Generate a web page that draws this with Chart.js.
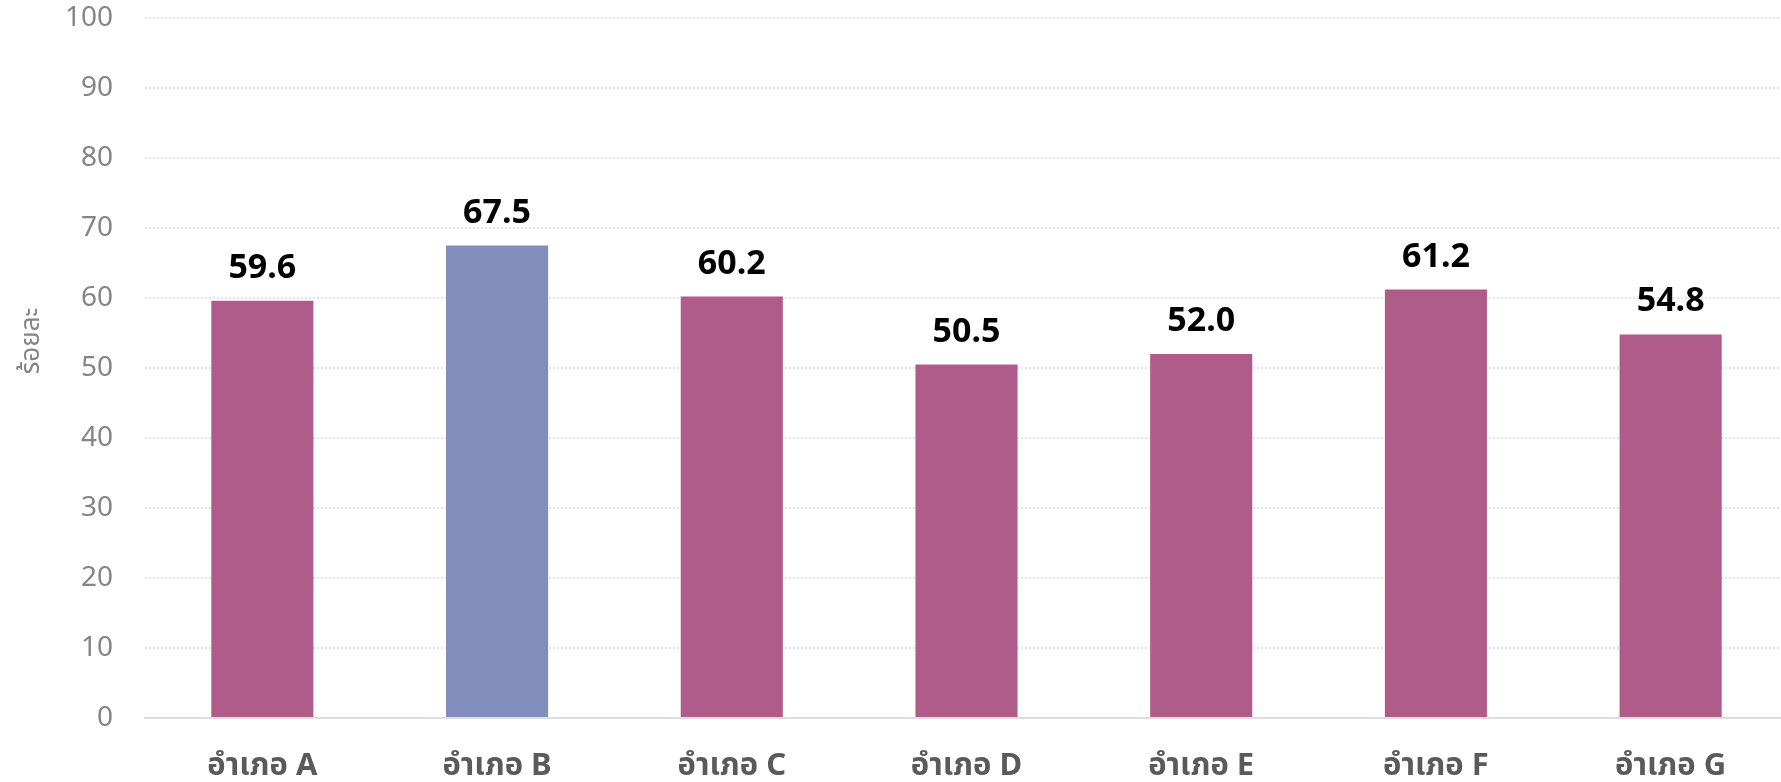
<!DOCTYPE html>
<html>
<head>
<meta charset="utf-8">
<script src="https://cdn.jsdelivr.net/npm/chart.js@4/dist/chart.umd.min.js"></script>
<style>
  html, body { margin: 0; padding: 0; background: #fff; overflow: hidden; }
  #wrap { position: relative; width: 1788px; height: 782px; }
</style>
</head>
<body>
<div id="wrap"><canvas id="c"></canvas></div>
<script>
const categories = ["อำเภอ A", "อำเภอ B", "อำเภอ C", "อำเภอ D", "อำเภอ E", "อำเภอ F", "อำเภอ G"];
const values = [59.6, 67.5, 60.2, 50.5, 52.0, 61.2, 54.8];
const highlightIndex = 1;
const yTicks = [0, 10, 20, 30, 40, 50, 60, 70, 80, 90, 100];
const yTitle = "ร้อยละ";

const FONT = '"Noto Sans", "Noto Sans Thai", "Open Sans", sans-serif';
const barColors = categories.map((c, i) => i === highlightIndex ? "#818dba" : "#b05c8b");

const valueLabels = {
  id: "valueLabels",
  afterDatasetsDraw(chart) {
    const ctx = chart.ctx;
    const meta = chart.getDatasetMeta(0);
    ctx.save();
    ctx.fillStyle = "#000";
    ctx.font = "bold 34px " + FONT;
    ctx.textAlign = "center";
    ctx.textBaseline = "alphabetic";
    meta.data.forEach((bar, i) => {
      ctx.fillText(values[i].toFixed(1), bar.x, bar.y - 23);
    });
    ctx.restore();
  }
};

const axisTitle = {
  id: "axisTitle",
  afterDraw(chart) {
    const ctx = chart.ctx;
    const area = chart.chartArea;
    ctx.save();
    ctx.translate(32, (area.top + area.bottom) / 2 - 27);
    ctx.rotate(-Math.PI / 2);
    ctx.fillStyle = "#858585";
    ctx.font = "26px " + FONT;
    ctx.textAlign = "center";
    ctx.textBaseline = "middle";
    ctx.fillText(yTitle, 0, 0);
    ctx.restore();
  }
};

new Chart(document.getElementById("c"), {
  type: "bar",
  data: {
    labels: categories,
    datasets: [{
      data: values,
      backgroundColor: barColors,
      borderWidth: 0,
      categoryPercentage: 1.0,
      barPercentage: 0.435
    }]
  },
  options: {
    responsive: true,
    maintainAspectRatio: false,
    animation: false,
    devicePixelRatio: 1,
    layout: { padding: { top: 0, right: 0, bottom: 0, left: 0 } },
    plugins: { legend: { display: false }, tooltip: { enabled: false } },
    scales: {
      x: {
        grid: { display: false, drawTicks: false },
        border: { display: true, color: "#dddddd", width: 2 },
        ticks: {
          color: "#5a5a5a",
          font: { family: FONT, size: 31, weight: "bold" },
          padding: 30,
          maxRotation: 0
        },
        afterFit(scale) { scale.height = 64; }
      },
      y: {
        min: 0,
        max: 100,
        afterBuildTicks(scale) { scale.ticks = yTicks.map(v => ({ value: v })); },
        grid: { color: "#dde3f5", lineWidth: 2, drawTicks: false },
        border: { display: false, dash: [2, 2] },
        ticks: {
          color: "#858585",
          font: { family: FONT, size: 28 },
          padding: 32
        },
        title: { display: false },
        afterFit(scale) { scale.width = 145; scale.paddingTop = 18; }
      }
    }
  },
  plugins: [valueLabels, axisTitle]
});
</script>
</body>
</html>
